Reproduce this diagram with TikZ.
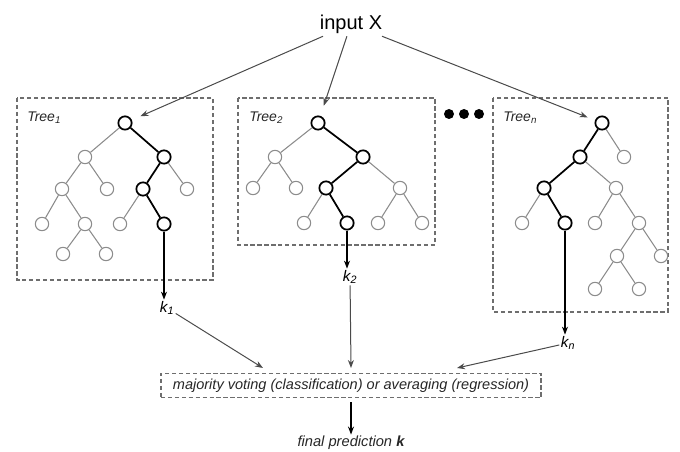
\documentclass[tikz,border=0pt]{standalone}
\usepackage{fontspec}
\setmainfont{Liberation Sans}
\usetikzlibrary{arrows.meta}
\definecolor{lg}{HTML}{8C8C8C}
\definecolor{dg}{HTML}{4A4A4A}
\definecolor{bx}{HTML}{6E6E6E}
\begin{document}
\begin{tikzpicture}[x=0.75pt,y=-0.75pt,
  tnode/.style={circle,draw=lg,line width=0.8pt,minimum size=10pt,inner sep=0pt,fill=white},
  hnode/.style={circle,draw=black,line width=1.3pt,minimum size=10pt,inner sep=0pt,fill=white},
  tedge/.style={draw=lg,line width=0.8pt},
  hedge/.style={draw=black,line width=1.3pt},
  tbox/.style={draw=bx,line width=0.9pt,dash pattern=on 3.2pt off 2pt},
  thinarr/.style={draw=dg,line width=0.75pt,-{Stealth[length=6pt,width=4.5pt]}},
  boldarr/.style={draw=black,line width=1.3pt,-{Stealth[length=6pt,width=4.5pt]}},
  lbl/.style={font=\itshape\fontsize{10.5}{12}\selectfont,text=black!85,inner sep=0pt},
  klbl/.style={font=\itshape\fontsize{11.5}{13}\selectfont,inner sep=1pt},
  dot/.style={circle,fill=black,minimum size=7.5pt,inner sep=0pt}
]
\useasboundingbox (0,0) rectangle (680,452);

% input
\node[font=\fontsize{15}{18}\selectfont,inner sep=2pt] (in) at (351,24) {input X};

% boxes
\draw[tbox] (17,98) rectangle (213,280);
\draw[tbox] (238,98) rectangle (435,245);
\draw[tbox] (493,98) rectangle (668,312);

\node[lbl,anchor=west] (l1) at (27,118) {Tree\textsubscript{1}};
\node[lbl,anchor=west] (l2) at (249,118) {Tree\textsubscript{2}};
\node[lbl,anchor=west] (ln) at (503,118) {Tree\textsubscript{n}};

% dots
\node[dot] (d1) at (449,114) {};
\node[dot] (d2) at (464,114) {};
\node[dot] (d3) at (479,114) {};

% Tree 1
\node[hnode] (t1a) at (125,123) {};
\node[tnode] (t1b) at (85,157) {};
\node[hnode] (t1c) at (164,157) {};
\node[tnode] (t1d) at (62,189) {};
\node[tnode] (t1e) at (107,189) {};
\node[hnode] (t1f) at (143,189) {};
\node[tnode] (t1g) at (187,189) {};
\node[tnode] (t1h) at (42,224) {};
\node[tnode] (t1i) at (85,224) {};
\node[tnode] (t1j) at (120,224) {};
\node[hnode] (t1k) at (164,224) {};
\node[tnode] (t1l) at (63,254) {};
\node[tnode] (t1m) at (106,254) {};
\draw[tedge] (t1a)--(t1b) (t1b)--(t1d) (t1b)--(t1e) (t1c)--(t1g) (t1d)--(t1h) (t1d)--(t1i) (t1f)--(t1j) (t1i)--(t1l) (t1i)--(t1m);
\draw[hedge] (t1a)--(t1c) (t1c)--(t1f) (t1f)--(t1k);

% Tree 2
\node[hnode] (t2a) at (318,123) {};
\node[tnode] (t2b) at (275,157) {};
\node[hnode] (t2c) at (363,157) {};
\node[tnode] (t2d) at (253,188) {};
\node[tnode] (t2e) at (296,188) {};
\node[hnode] (t2f) at (326,188) {};
\node[tnode] (t2g) at (400,188) {};
\node[tnode] (t2h) at (304,223) {};
\node[hnode] (t2i) at (347,223) {};
\node[tnode] (t2j) at (378,223) {};
\node[tnode] (t2k) at (422,223) {};
\draw[tedge] (t2a)--(t2b) (t2b)--(t2d) (t2b)--(t2e) (t2c)--(t2g) (t2f)--(t2h) (t2g)--(t2j) (t2g)--(t2k);
\draw[hedge] (t2a)--(t2c) (t2c)--(t2f) (t2f)--(t2i);

% Tree n
\node[hnode] (tna) at (602,123) {};
\node[hnode] (tnb) at (580,157) {};
\node[tnode] (tnc) at (624,157) {};
\node[hnode] (tnd) at (544,188) {};
\node[tnode] (tne) at (616,188) {};
\node[tnode] (tnf) at (522,223) {};
\node[hnode] (tng) at (565,223) {};
\node[tnode] (tnh) at (595,223) {};
\node[tnode] (tni) at (639,223) {};
\node[tnode] (tnj) at (617,256) {};
\node[tnode] (tnk) at (661,256) {};
\node[tnode] (tnl) at (595,289) {};
\node[tnode] (tnm) at (639,289) {};
\draw[tedge] (tna)--(tnc) (tnb)--(tne) (tnd)--(tnf) (tne)--(tnh) (tne)--(tni) (tni)--(tnj) (tni)--(tnk) (tnj)--(tnl) (tnj)--(tnm);
\draw[hedge] (tna)--(tnb) (tnb)--(tnd) (tnd)--(tng);

% input arrows
\draw[thinarr,shorten >=7pt] (in) -- (t1a);
\draw[thinarr,shorten >=8pt] (in) -- (t2a);
\draw[thinarr,shorten >=6pt] (in) -- (tna);

% k labels
\node[klbl] (k1) at (167,308) {k\textsubscript{1}};
\node[klbl] (k2) at (350,277) {k\textsubscript{2}};
\node[klbl] (kn) at (568,343) {k\textsubscript{n}};

\draw[boldarr] (t1k) -- (t1k |- k1.north);
\draw[boldarr] (t2i) -- (t2i |- k2.north);
\draw[boldarr] (tng) -- (tng |- kn.north);

% vote box
\node[draw=bx,line width=0.9pt,dash pattern=on 3.2pt off 2pt,minimum width=285pt,minimum height=18.5pt,inner sep=0pt,
  font=\itshape\fontsize{10.9}{13}\selectfont,text=black!85] (vote) at (351,385.5)
  {majority voting (classification) or averaging (regression)};

\coordinate (v1) at (263,368);
\coordinate (v2) at (351,368);
\coordinate (vn) at (457,368);
\draw[thinarr] (k1) -- (v1);
\draw[thinarr] (k2) -- (v2);
\draw[thinarr] (kn) -- (vn);

\node[font=\itshape\fontsize{11}{13}\selectfont,text=black!85,inner sep=1pt] (fin) at (351,443) {final prediction \textbf{k}};
\coordinate (vs) at ([yshift=-3pt]vote.south);
\draw[boldarr] (vs) -- (fin.north);
\end{tikzpicture}
\end{document}
